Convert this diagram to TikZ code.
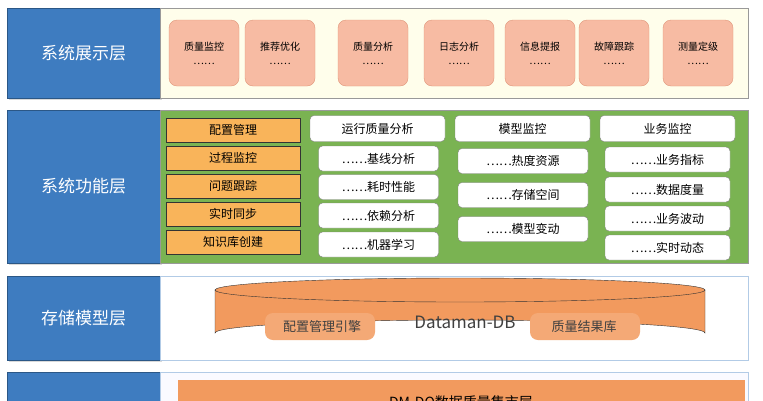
\documentclass[tikz,border=0pt]{standalone}
\usepackage{fontspec}
\newfontfamily\cjk{Noto Sans CJK SC}
\usetikzlibrary{shadows}
\definecolor{bluel}{HTML}{3E7CC0}
\definecolor{salm}{HTML}{F7BBA3}
\definecolor{salmd}{HTML}{E0967A}
\definecolor{grn}{HTML}{7AB352}
\definecolor{org}{HTML}{F9B45A}
\definecolor{cyl}{HTML}{F29A5E}
\tikzset{
 layer/.style={draw=bluel!70!black,fill=bluel,text=white,font=\cjk\fontsize{17}{20}\selectfont,minimum width=153pt,drop shadow={opacity=0.3}},
 pres/.style={draw=salmd,fill=salm,rounded corners=8pt,minimum width=70pt,minimum height=66pt,font=\cjk\fontsize{10}{16}\selectfont,align=center},
 func/.style={draw=black!80,fill=org,minimum width=134pt,minimum height=24pt,font=\cjk\fontsize{12}{14}\selectfont},
 head/.style={draw=gray,fill=white,rounded corners=4pt,minimum width=135pt,minimum height=26pt,font=\cjk\fontsize{12}{14}\selectfont},
 sub/.style={draw=gray,fill=white,rounded corners=4pt,minimum width=120pt,minimum height=25pt,font=\cjk\fontsize{12}{14}\selectfont},
}
\begin{document}
\begin{tikzpicture}[x=1pt,y=-1pt]
\useasboundingbox (0,0) rectangle (763,400);
\clip (0,0) rectangle (763,400);
% left layers
\node[layer,minimum height=90pt] (l1) at (83.5,53) {系统展示层};
\node[layer,minimum height=153pt] (l2) at (83.5,186.5) {系统功能层};
\node[layer,minimum height=84pt] (l3) at (83.5,318) {存储模型层};
\node[layer,minimum height=60pt,anchor=north] (l4) at (83.5,372) {};
% panels
\draw[draw=black!40,fill=yellow!8!white] (160,8) rectangle (748,98);
\draw[draw=black!40,fill=grn] (160,110) rectangle (748,263);
\draw[draw=bluel!40,fill=white] (160,276) rectangle (748,360);
\draw[draw=bluel!40,fill=blue!2!white] (160,372) rectangle (748,420);
% presentation boxes
\foreach \x/\t/\n in {204/质量监控/p1,280/推荐优化/p2,373/质量分析/p3,459/日志分析/p4,540/信息提报/p5,614/故障跟踪/p6,698/测量定级/p7}
  \node[pres] (\n) at (\x,53) {\t\\[-2pt]……};
% function left
\foreach \y/\t/\n in {130/配置管理/f1,158/过程监控/f2,186/问题跟踪/f3,214/实时同步/f4,242/知识库创建/f5}
  \node[func] (\n) at (233,\y) {\t};
\node[head] (h1) at (377.5,128.5) {运行质量分析};
\foreach \y/\t/\n in {158.5/基线分析/a1,187/耗时性能/a2,215.5/依赖分析/a3,244.5/机器学习/a4}
  \node[sub] (\n) at (378.5,\y) {……\t};
\node[head] (h2) at (522.5,128.5) {模型监控};
\foreach \y/\t/\n in {161/热度资源/b1,195/存储空间/b2,229/模型变动/b3}
  \node[sub,minimum width=130pt] (\n) at (523,\y) {……\t};
\node[head] (h3) at (667.5,128.5) {业务监控};
\foreach \y/\t/\n in {159.5/业务指标/c1,189.5/数据度量/c2,218.5/业务波动/c3,247.5/实时动态/c4}
  \node[sub,minimum width=125pt] (\n) at (667.5,\y) {……\t};
% cylinder
\fill[cyl] (215,290) -- (215,333) arc[start angle=180,end angle=360,x radius=245,y radius=13] -- (705,290) -- cycle;
\draw[black!80] (215,290) -- (215,333) arc[start angle=180,end angle=360,x radius=245,y radius=13] -- (705,290);
\draw[black!80,fill=cyl] (460,290) ellipse[x radius=245,y radius=12];
\fill[cyl!85!white,rounded corners=8pt] (265,313) rectangle (375,340);
\fill[cyl!85!white,rounded corners=8pt] (530,313) rectangle (640,340);
\node[font=\cjk\fontsize{13}{15}\selectfont,text=black!75] (e1) at (322,327) {配置管理引擎};
\node[font=\cjk\fontsize{13}{15}\selectfont,text=black!75] (e2) at (584,327) {质量结果库};
\node[font=\cjk\fontsize{17}{19}\selectfont,text=black!75] (db) at (465,322) {Dataman-DB};
% bottom
\fill[cyl] (178,380) rectangle (745,420);
\node[font=\cjk\fontsize{14}{16}\selectfont] (dq) at (461,403) {DM-DQ数据质量集市层};
\end{tikzpicture}
\end{document}
